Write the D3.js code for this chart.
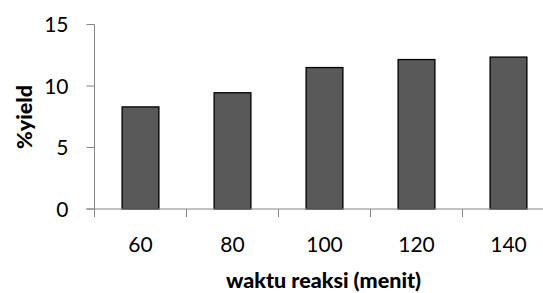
<!DOCTYPE html>
<html>
<head>
<meta charset="utf-8">
<script src="https://cdn.jsdelivr.net/npm/d3@7"></script>
<style>
  body { margin: 0; background: #fff; }
  svg { display: block; overflow: hidden; }
  text { font-family: Lato, "Open Sans", sans-serif; fill: #000; }
</style>
</head>
<body>
<svg id="chart" width="543" height="293"></svg>
<script>
// data
const categories = ["60", "80", "100", "120", "140"];
const yieldValues = [8.3, 9.45, 11.5, 12.15, 12.35];
const yTicks = [0, 5, 10, 15];

const svg = d3.select("#chart");
const margin = { left: 94.5, top: 24.5 };
const plotW = 460, plotH = 184.5;

const g = svg.append("g").attr("transform", `translate(${margin.left},${margin.top})`);

const x = d3.scaleBand().domain(categories).range([0, plotW])
    .paddingInner(0.6).paddingOuter(0.3);
const y = d3.scaleLinear().domain([0, 15]).range([plotH, 0]);

const axisColor = "#868686";

// bars
g.selectAll(".bar").data(yieldValues).enter().append("rect")
    .attr("class", "bar")
    .attr("x", (d, i) => x(categories[i]))
    .attr("y", d => y(d))
    .attr("width", x.bandwidth())
    .attr("height", d => y(0) - y(d))
    .attr("fill", "#595959")
    .attr("stroke", "#000")
    .attr("stroke-width", 1.3);

// y axis
g.append("line").attr("x1", 0).attr("x2", 0).attr("y1", 0).attr("y2", plotH)
    .attr("stroke", axisColor).attr("stroke-width", 1);
g.selectAll(".ytick").data(yTicks).enter().append("line")
    .attr("x1", -8).attr("x2", 0)
    .attr("y1", d => y(d)).attr("y2", d => y(d))
    .attr("stroke", axisColor);
g.selectAll(".ylab").data(yTicks).enter().append("text")
    .attr("x", -26).attr("y", d => y(d)).attr("dy", "0.36em")
    .attr("text-anchor", "end").style("font-size", "21px")
    .text(d => d);

// x axis
g.append("line").attr("x1", -8).attr("x2", plotW).attr("y1", plotH).attr("y2", plotH)
    .attr("stroke", axisColor);
const step = x.step();
const tickPos = d3.range(categories.length + 1).map(i => i * step);
g.selectAll(".xtick").data(tickPos).enter().append("line")
    .attr("x1", d => d).attr("x2", d => d)
    .attr("y1", plotH).attr("y2", plotH + 8)
    .attr("stroke", axisColor);
g.selectAll(".xlab").data(categories).enter().append("text")
    .attr("x", d => x(d) + x.bandwidth() / 2).attr("y", plotH + 43)
    .attr("text-anchor", "middle").style("font-size", "21px")
    .text(d => d);

// titles
g.append("text").attr("x", plotW / 2 - 1).attr("y", plotH + 79)
    .attr("text-anchor", "middle").style("font-size", "21.5px").style("font-weight", "900")
    .text("waktu reaksi (menit)");
svg.append("text")
    .attr("transform", "translate(32,117) rotate(-90)")
    .attr("text-anchor", "middle").style("font-size", "21.5px").style("font-weight", "900")
    .text("%yield");
</script>
</body>
</html>
